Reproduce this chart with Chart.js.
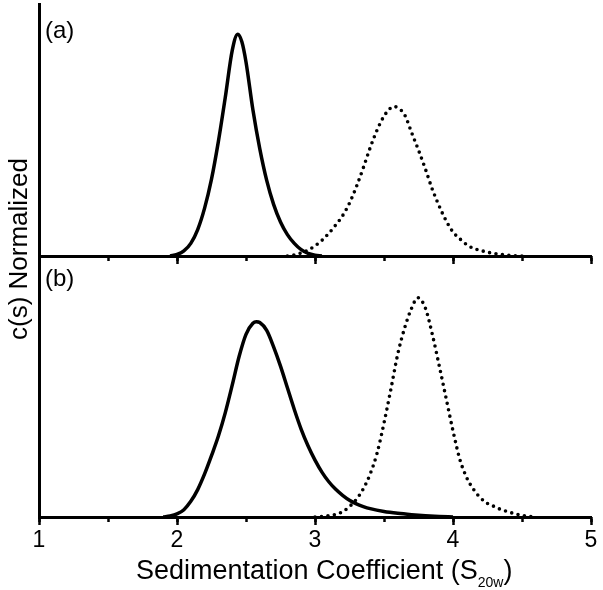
<!DOCTYPE html>
<html>
<head>
<meta charset="utf-8">
<script src="https://cdn.jsdelivr.net/npm/chart.js@4.4.1/dist/chart.umd.min.js"></script>
<style>
  body { margin: 0; background: #fff; width: 603px; height: 590px; position: relative; overflow: hidden;
         font-family: "Liberation Sans", Arial, sans-serif; color: #000; }
  canvas { position: absolute; left: 0; }
  .lbl { position: absolute; line-height: 1; white-space: nowrap; }
</style>
</head>
<body>
<canvas id="topChart" width="603" height="268" style="top:0"></canvas>
<canvas id="botChart" width="603" height="350" style="top:240px"></canvas>
<div class="lbl" style="left:45px;top:18px;font-size:24px">(a)</div>
<div class="lbl" style="left:45px;top:266px;font-size:24px">(b)</div>
<div class="lbl" style="left:-132px;top:236px;width:300px;height:26px;font-size:26px;text-align:center;transform:rotate(-90deg)">c(s) Normalized</div>
<div class="lbl" style="left:136px;top:557px;font-size:27px">Sedimentation Coefficient (S<span style="font-size:14px;vertical-align:-8px">20w</span>)</div>
<script>
// panel (a)
const solidAX = [1.95, 2.00, 2.05, 2.10, 2.15, 2.20, 2.25, 2.30, 2.35, 2.40, 2.44, 2.47, 2.50, 2.55, 2.60, 2.65, 2.70, 2.75, 2.80, 2.85, 2.90, 2.95, 3.00, 3.05];
const solidAY = [0, 0.006, 0.02, 0.05, 0.105, 0.19, 0.305, 0.455, 0.63, 0.815, 0.88, 0.85, 0.77, 0.58, 0.425, 0.30, 0.205, 0.135, 0.085, 0.05, 0.025, 0.01, 0.003, 0];
const dotAX = [2.80, 2.85, 2.90, 2.95, 3.00, 3.05, 3.10, 3.15, 3.20, 3.25, 3.30, 3.35, 3.40, 3.45, 3.50, 3.55, 3.575, 3.60, 3.65, 3.70, 3.75, 3.80, 3.85, 3.90, 3.95, 4.00, 4.05, 4.10, 4.15, 4.20, 4.25, 4.30, 4.35, 4.40, 4.45, 4.50];
const dotAY = [0, 0.004, 0.012, 0.024, 0.04, 0.062, 0.09, 0.123, 0.16, 0.21, 0.275, 0.35, 0.43, 0.5, 0.555, 0.588, 0.593, 0.588, 0.56, 0.49, 0.42, 0.345, 0.265, 0.198, 0.14, 0.095, 0.068, 0.045, 0.03, 0.022, 0.015, 0.01, 0.006, 0.003, 0.001, 0];

// panel (b)
const solidBX = [1.90, 1.95, 2.00, 2.05, 2.10, 2.15, 2.20, 2.25, 2.30, 2.35, 2.40, 2.45, 2.50, 2.55, 2.575, 2.60, 2.65, 2.70, 2.75, 2.80, 2.85, 2.90, 2.95, 3.00, 3.05, 3.10, 3.15, 3.20, 3.25, 3.30, 3.35, 3.40, 3.50, 3.60, 3.70, 3.80, 3.90, 4.00];
const solidBY = [0, 0.004, 0.012, 0.028, 0.06, 0.105, 0.165, 0.235, 0.31, 0.40, 0.505, 0.615, 0.70, 0.742, 0.748, 0.745, 0.715, 0.652, 0.578, 0.495, 0.412, 0.336, 0.272, 0.218, 0.172, 0.135, 0.106, 0.083, 0.064, 0.05, 0.04, 0.032, 0.021, 0.014, 0.009, 0.005, 0.002, 0];
const dotBX = [3.00, 3.05, 3.10, 3.15, 3.20, 3.25, 3.30, 3.35, 3.40, 3.45, 3.50, 3.55, 3.60, 3.65, 3.70, 3.745, 3.80, 3.85, 3.90, 3.95, 4.00, 4.05, 4.10, 4.15, 4.20, 4.25, 4.30, 4.35, 4.40, 4.45, 4.50, 4.55, 4.60];
const dotBY = [0, 0.002, 0.005, 0.01, 0.02, 0.04, 0.068, 0.108, 0.165, 0.245, 0.36, 0.49, 0.625, 0.725, 0.80, 0.84, 0.80, 0.70, 0.58, 0.455, 0.33, 0.22, 0.15, 0.105, 0.073, 0.052, 0.04, 0.028, 0.02, 0.012, 0.006, 0.002, 0];

const xMin = 1, xMax = 5, xMajor = 1, xMinor = 0.5;

const pts = (xs, ys) => xs.map((x, i) => ({ x, y: ys[i] }));

function solid(xs, ys) {
  return { data: pts(xs, ys), borderColor: "#000", borderWidth: 3.5, pointRadius: 0,
           cubicInterpolationMode: "monotone", borderJoinStyle: "round" };
}
function dotted(xs, ys) {
  return { data: pts(xs, ys), borderColor: "#000", borderWidth: 3.6, pointRadius: 0,
           cubicInterpolationMode: "monotone", borderDash: [0, 6.5], borderCapStyle: "round" };
}

function scales(showLabels, axisHeight) {
  return {
    x: {
      type: "linear", min: xMin, max: xMax, position: "bottom", weight: 1,
      ticks: { stepSize: xMajor, display: showLabels, color: "#000", padding: 2, maxRotation: 0,
               font: { family: '"Liberation Sans", Arial, sans-serif', size: 23 } },
      grid: { drawOnChartArea: false, tickLength: 8, tickWidth: 2.5, tickColor: "#000" },
      border: { color: "#000", width: 3 },
      afterFit: s => { s.height = axisHeight; s.paddingLeft = 0; s.paddingRight = 0; }
    },
    xMinor: {
      type: "linear", min: xMin, max: xMax, position: "bottom", weight: 0,
      ticks: { stepSize: xMinor, display: false },
      grid: { drawOnChartArea: false, tickLength: 5, tickWidth: 2.5, tickColor: "#000" },
      border: { display: false },
      afterFit: s => { s.height = 0; s.paddingLeft = 0; s.paddingRight = 0; }
    },
    y: {
      min: 0, max: 1,
      ticks: { display: false },
      grid: { display: false },
      border: { color: "#000", width: 3 },
      afterFit: s => { s.width = 39; }
    }
  };
}

const common = {
  responsive: false,
  animation: false,
  plugins: { legend: { display: false }, tooltip: { enabled: false } }
};

new Chart(document.getElementById("topChart"), {
  type: "line",
  data: { datasets: [solid(solidAX, solidAY), dotted(dotAX, dotAY)] },
  options: { ...common, layout: { padding: { top: 4, right: 12, left: 0, bottom: 0 } }, scales: scales(false, 12) }
});

new Chart(document.getElementById("botChart"), {
  type: "line",
  data: { datasets: [solid(solidBX, solidBY), dotted(dotBX, dotBY)] },
  options: { ...common, layout: { padding: { top: 16, right: 12, left: 0, bottom: 0 } }, scales: scales(true, 73) }
});
</script>
</body>
</html>
